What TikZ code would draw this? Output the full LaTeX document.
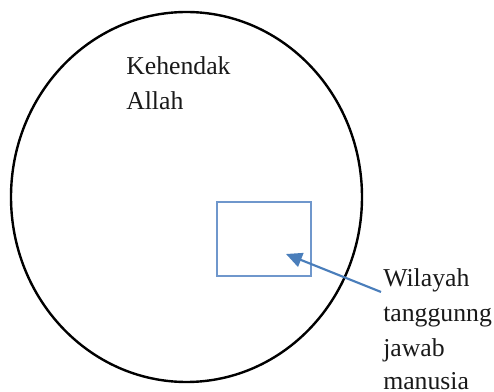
\documentclass[tikz,border=0pt]{standalone}
\usepackage{fontspec}
\setmainfont{Liberation Serif}
\usetikzlibrary{arrows.meta}
\definecolor{wordblue}{HTML}{4A7EBB}
\definecolor{boxblue}{HTML}{6F97CC}
\begin{document}
\begin{tikzpicture}[x=0.75pt,y=-0.75pt,
  lbl/.style={anchor=base west,inner sep=0pt,font=\fontsize{19.3}{26}\selectfont,text=black!90},
  pointer/.style={draw=wordblue,line width=1.6pt,-{Triangle[length=12pt,width=11pt]}}]
\useasboundingbox (0,0) rectangle (494,392);
\draw[line width=1.8pt] (186.5,197) ellipse [x radius=175.5, y radius=185];
\node[draw=boxblue,line width=0.8pt,minimum width=70.5pt,minimum height=55.5pt,inner sep=0pt] (box) at (264,239) {};
\node[lbl] (k1) at (126,75) {Kehendak};
\node[lbl] (k2) at (126,110) {Allah};
\node[lbl] (w1) at (383,287) {Wilayah};
\node[lbl] (w2) at (383,322) {tanggunng};
\node[lbl] (w3) at (383,357) {jawab};
\node[lbl] (w4) at (383,390) {manusia};
\coordinate (tail) at (381,292);
\coordinate (tip) at (286,254);
\draw[pointer] (tail) -- (tip);
\end{tikzpicture}
\end{document}
